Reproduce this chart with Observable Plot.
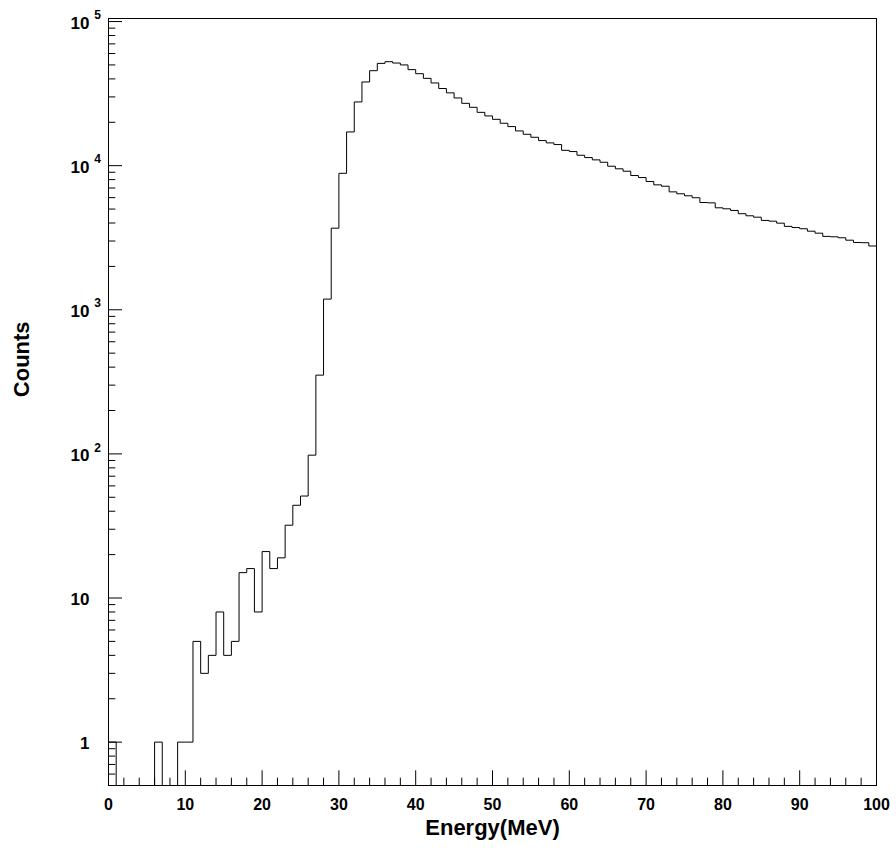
<!DOCTYPE html>
<html>
<head>
<meta charset="utf-8">
<script src="https://cdn.jsdelivr.net/npm/d3@7"></script>
<script src="https://cdn.jsdelivr.net/npm/@observablehq/plot@0.6"></script>
<style>
  html, body { margin: 0; padding: 0; background: #fff; }
  #chart svg { display: block; }
</style>
</head>
<body>
<div id="chart"></div>
<script>
// ---- Data: 1 MeV bins, low edges and counts ----
const binLow = [
  0, 1, 2, 3, 4, 5, 6, 7, 8, 9,
  10, 11, 12, 13, 14, 15, 16, 17, 18, 19,
  20, 21, 22, 23, 24, 25, 26, 27, 28, 29,
  30, 31, 32, 33, 34, 35, 36, 37, 38, 39,
  40, 41, 42, 43, 44, 45, 46, 47, 48, 49,
  50, 51, 52, 53, 54, 55, 56, 57, 58, 59,
  60, 61, 62, 63, 64, 65, 66, 67, 68, 69,
  70, 71, 72, 73, 74, 75, 76, 77, 78, 79,
  80, 81, 82, 83, 84, 85, 86, 87, 88, 89,
  90, 91, 92, 93, 94, 95, 96, 97, 98, 99
];
const counts = [
  1, 0, 0, 0, 0, 0, 1, 0, 0, 1,
  1, 5, 3, 4, 8, 4, 5, 15, 16, 8,
  21, 16, 19, 32, 44, 51, 98, 352, 1186, 3683,
  8851, 17140, 27670, 38080, 45600, 51260, 52650, 51540, 50000, 46380,
  43470, 40340, 37490, 34300, 32000, 29500, 27070, 25400, 23440, 22140,
  20970, 19690, 18670, 17420, 16510, 15740, 14930, 14390, 14010, 12780,
  12530, 11810, 11380, 10970, 10560, 9910, 9510, 9150, 8540, 8270,
  7760, 7360, 7200, 6580, 6380, 6180, 5990, 5550, 5520, 5100,
  5020, 4890, 4640, 4490, 4390, 4170, 4120, 3990, 3790, 3720,
  3650, 3510, 3400, 3230, 3210, 3160, 3040, 2930, 2920, 2770
];
const binEnd = 100;

// ---- Axis ticks and labels ----
const xMajorTicks = [0, 10, 20, 30, 40, 50, 60, 70, 80, 90, 100];
const xTickLabels = ["0", "10", "20", "30", "40", "50", "60", "70", "80", "90", "100"];
const xMinorTicks = d3.range(0, 101, 2).filter(d => d % 10 !== 0);

const yMajorTicks = [1, 10, 100, 1000, 10000, 100000];
const yTickBase = ["1", "10", "10", "10", "10", "10"];
const yTickExp = ["", "", "2", "3", "4", "5"];
const yMinorTicks = [0.6, 0.7, 0.8, 0.9]
  .concat(...[1, 10, 100, 1000, 10000].map(p => [2,3,4,5,6,7,8,9].map(k => k * p)));

const xTitle = "Energy(MeV)";
const yTitle = "Counts";

// ---- Layout ----
const W = 896, H = 850;
const mL = 108, mR = 20, mT = 18, mB = 65;
const fw = W - mL - mR, fh = H - mT - mB;
const yMin = 0.5, yMax = 1.05e5;
const font = '"Liberation Sans", Arial, Helvetica, sans-serif';

// Histogram outline: step-after through bin low edges, closed at the upper edge.
// Empty bins drop to the bottom of the log frame.
const hist = binLow.map((x, i) => ({x, y: counts[i] > 0 ? counts[i] : yMin}));
hist.push({x: binEnd, y: counts[counts.length - 1] > 0 ? counts[counts.length - 1] : yMin});

const chart = Plot.plot({
  width: W,
  height: H,
  marginLeft: mL,
  marginRight: mR,
  marginTop: mT,
  marginBottom: mB,
  style: {fontFamily: font, background: "#fff", color: "#000", overflow: "visible"},
  x: {domain: [0, 100], axis: null},
  y: {type: "log", domain: [yMin, yMax], axis: null},
  marks: [
    // inward ticks on bottom axis
    Plot.tickX(xMajorTicks, {x: d => d, insetTop: fh - 14.7, stroke: "#000", strokeWidth: 1}),
    Plot.tickX(xMinorTicks, {x: d => d, insetTop: fh - 7.3, stroke: "#000", strokeWidth: 1}),
    // inward ticks on left axis
    Plot.tickY(yMajorTicks, {y: d => d, insetRight: fw - 14, stroke: "#000", strokeWidth: 1}),
    Plot.tickY(yMinorTicks, {y: d => d, insetRight: fw - 7.3, stroke: "#000", strokeWidth: 1}),
    // histogram
    Plot.line(hist, {x: "x", y: "y", curve: "step-after", stroke: "#000", strokeWidth: 1, clip: true}),
    Plot.frame({stroke: "#000", strokeWidth: 1}),
    // x tick labels
    Plot.text(xMajorTicks, {
      x: d => d, text: (d, i) => xTickLabels[i], frameAnchor: "bottom",
      dy: 19, lineAnchor: "middle", fontSize: 16, fontWeight: "bold", fill: "#000"
    }),
    // y tick labels: base
    Plot.text(yMajorTicks, {
      y: d => d, text: (d, i) => yTickBase[i], frameAnchor: "left",
      dx: -19, dy: 1.5, textAnchor: "end", lineAnchor: "middle",
      fontSize: 17, fontWeight: "bold", fill: "#000"
    }),
    // y tick labels: exponent
    Plot.text(yMajorTicks, {
      filter: (d, i) => yTickExp[i] !== "",
      y: d => d, text: (d, i) => yTickExp[i], frameAnchor: "left",
      dx: -14.2, dy: -6.2, textAnchor: "start", lineAnchor: "middle",
      fontSize: 12, fontWeight: "bold", fill: "#000"
    }),
    // axis titles
    Plot.text([xTitle], {
      frameAnchor: "bottom", dy: 42, lineAnchor: "middle",
      fontSize: 22, fontWeight: "bold", fill: "#000"
    }),
    Plot.text([yTitle], {
      frameAnchor: "left", dx: -87, dy: -4.8, rotate: -90, lineAnchor: "middle",
      fontSize: 22, fontWeight: "bold", fill: "#000"
    })
  ]
});

document.getElementById("chart").appendChild(chart);
</script>
</body>
</html>
